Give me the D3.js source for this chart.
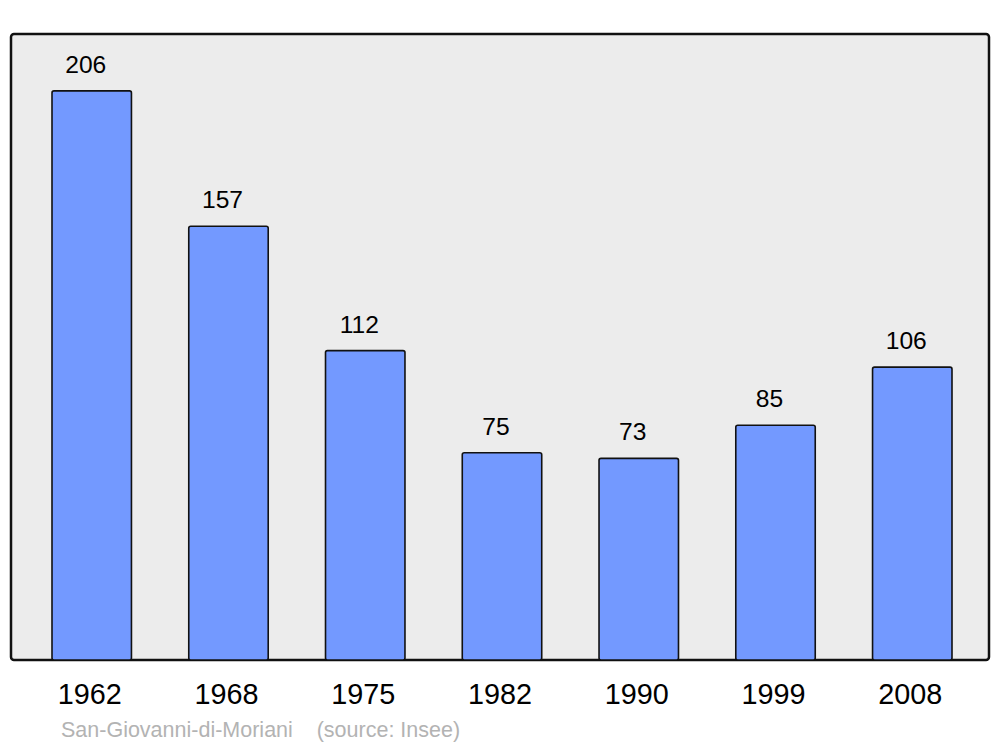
<!DOCTYPE html>
<html>
<head>
<meta charset="utf-8">
<script src="https://cdn.jsdelivr.net/npm/d3@7"></script>
<style>
  body { margin: 0; background: #ffffff; }
  svg { display: block; font-family: "Liberation Sans", Arial, sans-serif; }
</style>
</head>
<body>
<div id="chart"></div>
<script>
// population by census year
var years = ["1962", "1968", "1975", "1982", "1990", "1999", "2008"];
var population = [206, 157, 112, 75, 73, 85, 106];
var commune = "San-Giovanni-di-Moriani";
var source = "(source: Insee)";

var width = 1000,
    height = 747,
    panelLeft = 11,
    panelRight = 989,
    panelTop = 34,
    panelBottom = 660;

var svg = d3.select("#chart")
    .append("svg")
      .attr("width", width)
      .attr("height", height);

// background panel
svg.append("rect")
    .attr("x", panelLeft)
    .attr("y", panelTop)
    .attr("width", panelRight - panelLeft)
    .attr("height", panelBottom - panelTop)
    .attr("rx", 3)
    .style("fill", "#ececec")
    .style("stroke", "#111")
    .style("stroke-width", 2.5);

var xScale = d3.scaleBand()
    .domain(years)
    .range([52, 952])
    .paddingInner(0.419)
    .paddingOuter(0);

var yScale = d3.scaleLinear()
    .domain([0, d3.max(population) * 1.1])
    .range([panelBottom, panelTop]);

// bars
svg.append("g")
    .selectAll("rect").data(population).enter()
    .append("rect")
      .attr("x", function(d, i) { return xScale(years[i]); })
      .attr("y", function(d) { return yScale(d); })
      .attr("width", xScale.bandwidth())
      .attr("height", function(d) { return yScale(0) - yScale(d); })
      .attr("rx", 2)
      .style("fill", "#7399ff")
      .style("stroke", "#111")
      .style("stroke-width", 1.6);

// value labels
svg.append("g")
    .selectAll("text").data(population).enter()
    .append("text")
      .text(function(d) { return d; })
      .attr("x", function(d, i) { return xScale(years[i]) + xScale.bandwidth() / 2 - 6; })
      .attr("y", function(d) { return yScale(d) - 18; })
      .style("font-size", "24.6px")
      .style("fill", "#000")
      .style("text-anchor", "middle");

// year labels
svg.append("g")
    .selectAll("text").data(years).enter()
    .append("text")
      .text(function(d) { return d; })
      .attr("x", function(d) { return xScale(d) + xScale.bandwidth() / 2 - 2; })
      .attr("y", 704)
      .style("font-size", "28.8px")
      .style("fill", "#000")
      .style("text-anchor", "middle");

// footer
svg.append("text")
    .attr("x", 61)
    .attr("y", 737)
    .style("font-size", "21.5px")
    .style("fill", "#b3b3b3")
    .text(commune + "\u00a0\u00a0\u00a0\u00a0" + source);
</script>
</body>
</html>
